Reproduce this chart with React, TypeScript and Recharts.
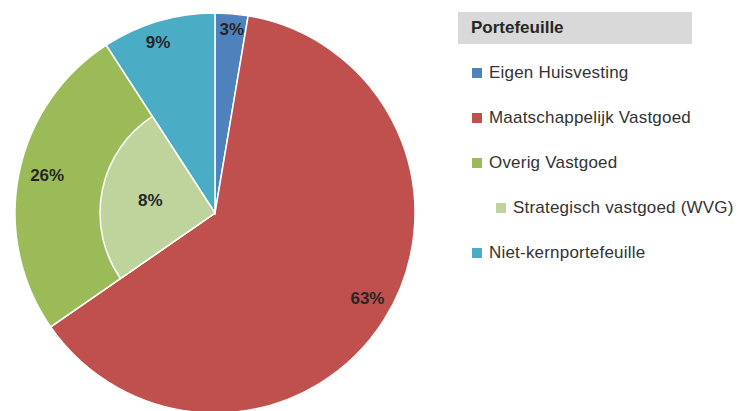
import React from "react";
import { PieChart, Pie, Cell, Legend } from "recharts";

const categories = ["Eigen Huisvesting", "Maatschappelijk Vastgoed", "Overig Vastgoed", "Niet-kernportefeuille"];
const shares = [2.65, 62.7, 25.5, 9.15];
const shareLabels = ["3%", "63%", "26%", "9%"];
const colors = ["#4F81BD", "#C0504D", "#9BBB59", "#4BACC6"];

const subCategory = "Strategisch vastgoed (WVG)";
const subLabel = "8%";
const subColor = "#BFD49C";

const legendTitle = "Portefeuille";

const outerData = categories.map((name, i) => ({ name, value: shares[i] }));
const innerData = categories.map((name, i) => ({ name: i === 2 ? subCategory : name, value: shares[i] }));

// label placement (style only)
const outerLabelRadius = [184, 175, 172, 180];
const outerLabelAngleShift = [-0.5, 3, -1.5, 2];
const RAD = Math.PI / 180;

const fontFamily = "'Liberation Sans', Arial, sans-serif";

const renderOuterLabel = (props: any) => {
  const { cx, cy, midAngle, index } = props;
  const r = outerLabelRadius[index];
  const a = midAngle + outerLabelAngleShift[index];
  const x = cx + r * Math.cos(-a * RAD);
  const y = cy + r * Math.sin(-a * RAD);
  return (
    <text x={x} y={y} textAnchor="middle" dominantBaseline="central" fill="#262626" fontSize={17} fontWeight="bold" fontFamily={fontFamily}>
      {shareLabels[index]}
    </text>
  );
};

const renderInnerLabel = (props: any) => {
  const { cx, cy, midAngle, index } = props;
  if (index !== 2) return null;
  const r = 66;
  const x = cx + r * Math.cos(-midAngle * RAD);
  const y = cy + r * Math.sin(-midAngle * RAD);
  return (
    <text x={x} y={y} textAnchor="middle" dominantBaseline="central" fill="#262626" fontSize={17} fontWeight="bold" fontFamily={fontFamily}>
      {subLabel}
    </text>
  );
};

const legendRows = [
  { name: categories[0], color: colors[0], indent: false },
  { name: categories[1], color: colors[1], indent: false },
  { name: categories[2], color: colors[2], indent: false },
  { name: subCategory, color: subColor, indent: true },
  { name: categories[3], color: colors[3], indent: false },
];

const LegendContent = () => (
  <div style={{ fontFamily, width: 300 }}>
    <div
      style={{
        background: "#D9D9D9",
        width: 234,
        height: 32,
        boxSizing: "border-box",
        paddingLeft: 13,
        lineHeight: "32px",
        fontWeight: "bold",
        fontSize: 17,
        color: "#262626",
      }}
    >
      {legendTitle}
    </div>
    <div style={{ marginTop: 6 }}>
      {legendRows.map((row) => (
        <div key={row.name} style={{ height: 45, display: "flex", alignItems: "center", paddingLeft: row.indent ? 38 : 14 }}>
          <span style={{ display: "inline-block", width: 10, height: 10, background: row.color, marginRight: 7 }} />
          <span style={{ fontSize: 17, letterSpacing: 0.2, color: "#333333", whiteSpace: "nowrap" }}>{row.name}</span>
        </div>
      ))}
    </div>
  </div>
);

export default function App() {
  return (
    <div style={{ position: "absolute", left: 0, top: 0, width: 740, height: 411, background: "#ffffff" }}>
      <PieChart width={740} height={411} margin={{ top: 0, right: 0, bottom: 0, left: 0 }}>
        <Pie
          data={outerData}
          dataKey="value"
          nameKey="name"
          cx={215}
          cy={213}
          outerRadius={200}
          startAngle={90}
          endAngle={-270}
          stroke="#ffffff"
          strokeWidth={1.5}
          label={renderOuterLabel}
          labelLine={false}
          isAnimationActive={false}
        >
          {outerData.map((d, i) => (
            <Cell key={d.name} fill={colors[i]} />
          ))}
        </Pie>
        <Pie
          data={innerData}
          dataKey="value"
          nameKey="name"
          cx={215}
          cy={213}
          outerRadius={115}
          startAngle={90}
          endAngle={-270}
          label={renderInnerLabel}
          labelLine={false}
          isAnimationActive={false}
        >
          {innerData.map((d, i) => (
            <Cell
              key={d.name}
              fill={i === 2 ? subColor : "transparent"}
              stroke={i === 2 ? "#ffffff" : "none"}
              strokeWidth={i === 2 ? 1.5 : 0}
            />
          ))}
        </Pie>
        <Legend
          content={() => <LegendContent />}
          wrapperStyle={{ position: "absolute", left: 458, top: 12, width: 300 }}
        />
      </PieChart>
    </div>
  );
}
